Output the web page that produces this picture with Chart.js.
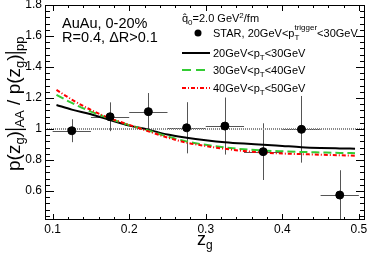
<!DOCTYPE html>
<html>
<head>
<meta charset="utf-8">
<script src="https://cdn.jsdelivr.net/npm/chart.js@4"></script>
<style>
  body { margin: 0; background: #fff; }
  canvas { display: block; }
</style>
</head>
<body>
<canvas id="mycanvas" width="374" height="254"></canvas>
<script>
// STAR data points (z_g bin centres, ratio, errors)
var zgBins = [0.125, 0.175, 0.225, 0.275, 0.325, 0.375, 0.425, 0.475];
var starRatio = [0.989, 1.079, 1.112, 1.008, 1.019, 0.854, 0.998, 0.574];
var starErr = [0.074, 0.093, 0.12, 0.165, 0.184, 0.183, 0.215, 0.16];
var binHalfWidth = 0.025;

// model curves
var curveZg = [0.105, 0.125, 0.15, 0.175, 0.2, 0.225, 0.25, 0.275, 0.3, 0.325, 0.35, 0.375, 0.4, 0.425, 0.45, 0.475, 0.495];
var ratio2030 = [1.155, 1.125, 1.095, 1.058, 1.022, 0.996, 0.964, 0.944, 0.928, 0.915, 0.906, 0.899, 0.891, 0.883, 0.878, 0.875, 0.873];
var ratio3040 = [1.22, 1.168, 1.112, 1.066, 1.025, 0.99, 0.952, 0.92, 0.898, 0.881, 0.869, 0.861, 0.856, 0.852, 0.849, 0.846, 0.844];
var ratio4050 = [1.252, 1.19, 1.123, 1.069, 1.027, 0.985, 0.945, 0.912, 0.89, 0.872, 0.858, 0.848, 0.842, 0.838, 0.834, 0.831, 0.828];

var xTicks = [0.1, 0.2, 0.3, 0.4, 0.5];
var yTicks = [0.6, 0.8, 1.0, 1.2, 1.4, 1.6, 1.8];

var FONT = "'Liberation Sans', Arial, sans-serif";

function pts(xs, ys) {
  var out = [];
  for (var i in xs) out.push({x: xs[i], y: ys[i]});
  return out;
}

function fmt(v) { return String(+v.toFixed(1)); }

// draws a run of [text, size, dy] pieces starting at x, returns end x
function drawRun(ctx, x, y, parts) {
  ctx.textAlign = 'left';
  ctx.textBaseline = 'alphabetic';
  for (var i = 0; i < parts.length; i++) {
    var p = parts[i];
    ctx.font = p[1] + "px " + FONT;
    ctx.fillText(p[0], x, y + (p[2] || 0));
    x += ctx.measureText(p[0]).width;
  }
  return x;
}

var framePlugin = {
  id: 'frame',
  beforeDatasetsDraw: function(chart) {
    var ctx = chart.ctx, xs = chart.scales.x, ys = chart.scales.y, a = chart.chartArea;
    ctx.save();
    ctx.beginPath();
    ctx.rect(a.left, a.top, a.right - a.left, a.bottom - a.top);
    ctx.clip();
    ctx.strokeStyle = '#555';
    ctx.lineWidth = 1;
    for (var i in zgBins) {
      var px = Math.round(xs.getPixelForValue(zgBins[i])) + 0.5;
      var py = Math.round(ys.getPixelForValue(starRatio[i])) + 0.5;
      ctx.beginPath();
      ctx.moveTo(px, ys.getPixelForValue(starRatio[i] + starErr[i]));
      ctx.lineTo(px, ys.getPixelForValue(starRatio[i] - starErr[i]));
      ctx.moveTo(xs.getPixelForValue(zgBins[i] - binHalfWidth), py);
      ctx.lineTo(xs.getPixelForValue(zgBins[i] + binHalfWidth), py);
      ctx.stroke();
    }
    ctx.restore();
  },
  afterDraw: function(chart) {
    var ctx = chart.ctx, xs = chart.scales.x, ys = chart.scales.y, a = chart.chartArea;
    ctx.save();
    ctx.strokeStyle = '#000';
    ctx.lineWidth = 1;
    ctx.strokeRect(a.left + 0.5, a.top + 0.5, a.right - a.left - 1, a.bottom - a.top - 1);
    ctx.beginPath();
    // x ticks, major every 0.1, minor every 0.02
    for (var k = 5; k <= 25; k++) {
      var v = k * 0.02;
      var px = Math.round(xs.getPixelForValue(v)) + 0.5;
      if (px < a.left || px > a.right) continue;
      var len = (k % 5 === 0) ? 6 : 3;
      ctx.moveTo(px, a.bottom); ctx.lineTo(px, a.bottom - len);
      ctx.moveTo(px, a.top); ctx.lineTo(px, a.top + len);
    }
    // y ticks, major every 0.2, minor every 0.04
    for (var m = 11; m <= 45; m++) {
      var w = m * 0.04;
      var py = Math.round(ys.getPixelForValue(w)) + 0.5;
      if (py < a.top - 1 || py > a.bottom) continue;
      var ln = (m % 5 === 0) ? 9 : 5;
      ctx.moveTo(a.left, py); ctx.lineTo(a.left + ln, py);
      ctx.moveTo(a.right, py); ctx.lineTo(a.right - ln, py);
    }
    ctx.stroke();

    ctx.fillStyle = '#000';

    // tick labels
    ctx.font = "12px " + FONT;
    ctx.textAlign = 'center';
    ctx.textBaseline = 'top';
    for (var t in xTicks) ctx.fillText(fmt(xTicks[t]), xs.getPixelForValue(xTicks[t]), a.bottom + 4);
    ctx.textAlign = 'right';
    ctx.textBaseline = 'middle';
    for (var u in yTicks) ctx.fillText(fmt(yTicks[u]), a.left - 3, ys.getPixelForValue(yTicks[u]));

    // x title
    drawRun(ctx, 197, 245, [['z', 18], ['g', 12, 4]]);

    // y title (rotated)
    ctx.save();
    ctx.translate(20, 171);
    ctx.rotate(-Math.PI / 2);
    var end = drawRun(ctx, 0, 0, [['p(z', 19], ['g', 13, 4], [')', 19]]);
    ctx.fillRect(end + 1, -15, 1.3, 21);
    end += 3.5;
    end = drawRun(ctx, end, 0, [['AA', 13, 4], [' / p(z', 19], ['g', 13, 4], [')', 19]]);
    ctx.fillRect(end + 1, -15, 1.3, 21);
    end += 3.5;
    drawRun(ctx, end, 0, [['pp', 13, 4]]);
    ctx.restore();

    // annotations
    drawRun(ctx, 62, 28, [['AuAu, 0-20%', 14.5]]);
    drawRun(ctx, 62, 42, [['R=0.4, \u0394R>0.1', 14.5]]);
    drawRun(ctx, 182, 22, [['q\u0302', 11], ['0', 8, 3], ['=2.0 GeV', 11], ['2', 8, -4], ['/fm', 11]]);

    // legend
    ctx.beginPath();
    ctx.arc(198, 33, 3.5, 0, Math.PI * 2);
    ctx.fill();
    var e1 = drawRun(ctx, 213, 37, [['STAR, 20GeV<p', 11]]);
    drawRun(ctx, e1, 40, [['T', 8]]);
    var e2 = drawRun(ctx, e1, 30, [['trigger', 8]]);
    drawRun(ctx, e2, 37, [['<30GeV', 11]]);

    var rows = [
      {y: 57, color: '#000', dash: [], label: ['20GeV<p', '<30GeV']},
      {y: 74, color: '#33cc33', dash: [9, 5], label: ['30GeV<p', '<40GeV']},
      {y: 92, color: '#ff0000', dash: [4, 2, 1, 2], label: ['40GeV<p', '<50GeV']}
    ];
    for (var r = 0; r < rows.length; r++) {
      var row = rows[r];
      ctx.save();
      ctx.strokeStyle = row.color;
      ctx.lineWidth = 2;
      ctx.setLineDash(row.dash);
      ctx.beginPath();
      ctx.moveTo(182, row.y - 4);
      ctx.lineTo(210, row.y - 4);
      ctx.stroke();
      ctx.restore();
      drawRun(ctx, 213, row.y, [[row.label[0], 11], ['T', 8, 3], [row.label[1], 11]]);
    }
    ctx.restore();
  }
};

var ctx = document.getElementById('mycanvas');

var chart = new Chart(ctx, {
  type: 'line',
  data: {
    datasets: [
      {
        label: 'STAR',
        data: pts(zgBins, starRatio),
        showLine: false,
        pointRadius: 4,
        pointBackgroundColor: '#000',
        pointBorderColor: '#000',
        order: 0
      },
      {
        label: '20GeV<pT<30GeV',
        data: pts(curveZg, ratio2030),
        borderColor: '#000',
        borderWidth: 2,
        pointRadius: 0,
        cubicInterpolationMode: 'monotone',
        order: 3
      },
      {
        label: '30GeV<pT<40GeV',
        data: pts(curveZg, ratio3040),
        borderColor: '#33cc33',
        borderWidth: 2,
        borderDash: [8, 4],
        pointRadius: 0,
        cubicInterpolationMode: 'monotone',
        order: 2
      },
      {
        label: '40GeV<pT<50GeV',
        data: pts(curveZg, ratio4050),
        borderColor: '#ff0000',
        borderWidth: 2,
        borderDash: [4, 2, 1, 2],
        pointRadius: 0,
        cubicInterpolationMode: 'monotone',
        order: 1
      },
      {
        label: 'unity',
        data: [{x: 0.09, y: 1}, {x: 0.508, y: 1}],
        borderColor: '#888',
        borderWidth: 2,
        borderDash: [1, 1],
        pointRadius: 0,
        order: 5
      }
    ]
  },
  options: {
    responsive: false,
    animation: false,
    devicePixelRatio: 1,
    layout: { padding: { top: 5, right: 9, left: 0, bottom: 0 } },
    plugins: { legend: { display: false }, tooltip: { enabled: false } },
    scales: {
      x: {
        type: 'linear',
        min: 0.09,
        max: 0.508,
        grid: { display: false, drawTicks: false },
        border: { display: false },
        afterFit: function(s) { s.height = 34; },
        ticks: { display: false }
      },
      y: {
        type: 'linear',
        min: 0.413,
        max: 1.8,
        grid: { display: false, drawTicks: false },
        border: { display: false },
        afterFit: function(s) { s.width = 45; },
        ticks: { display: false }
      }
    }
  },
  plugins: [framePlugin]
});
</script>
</body>
</html>
